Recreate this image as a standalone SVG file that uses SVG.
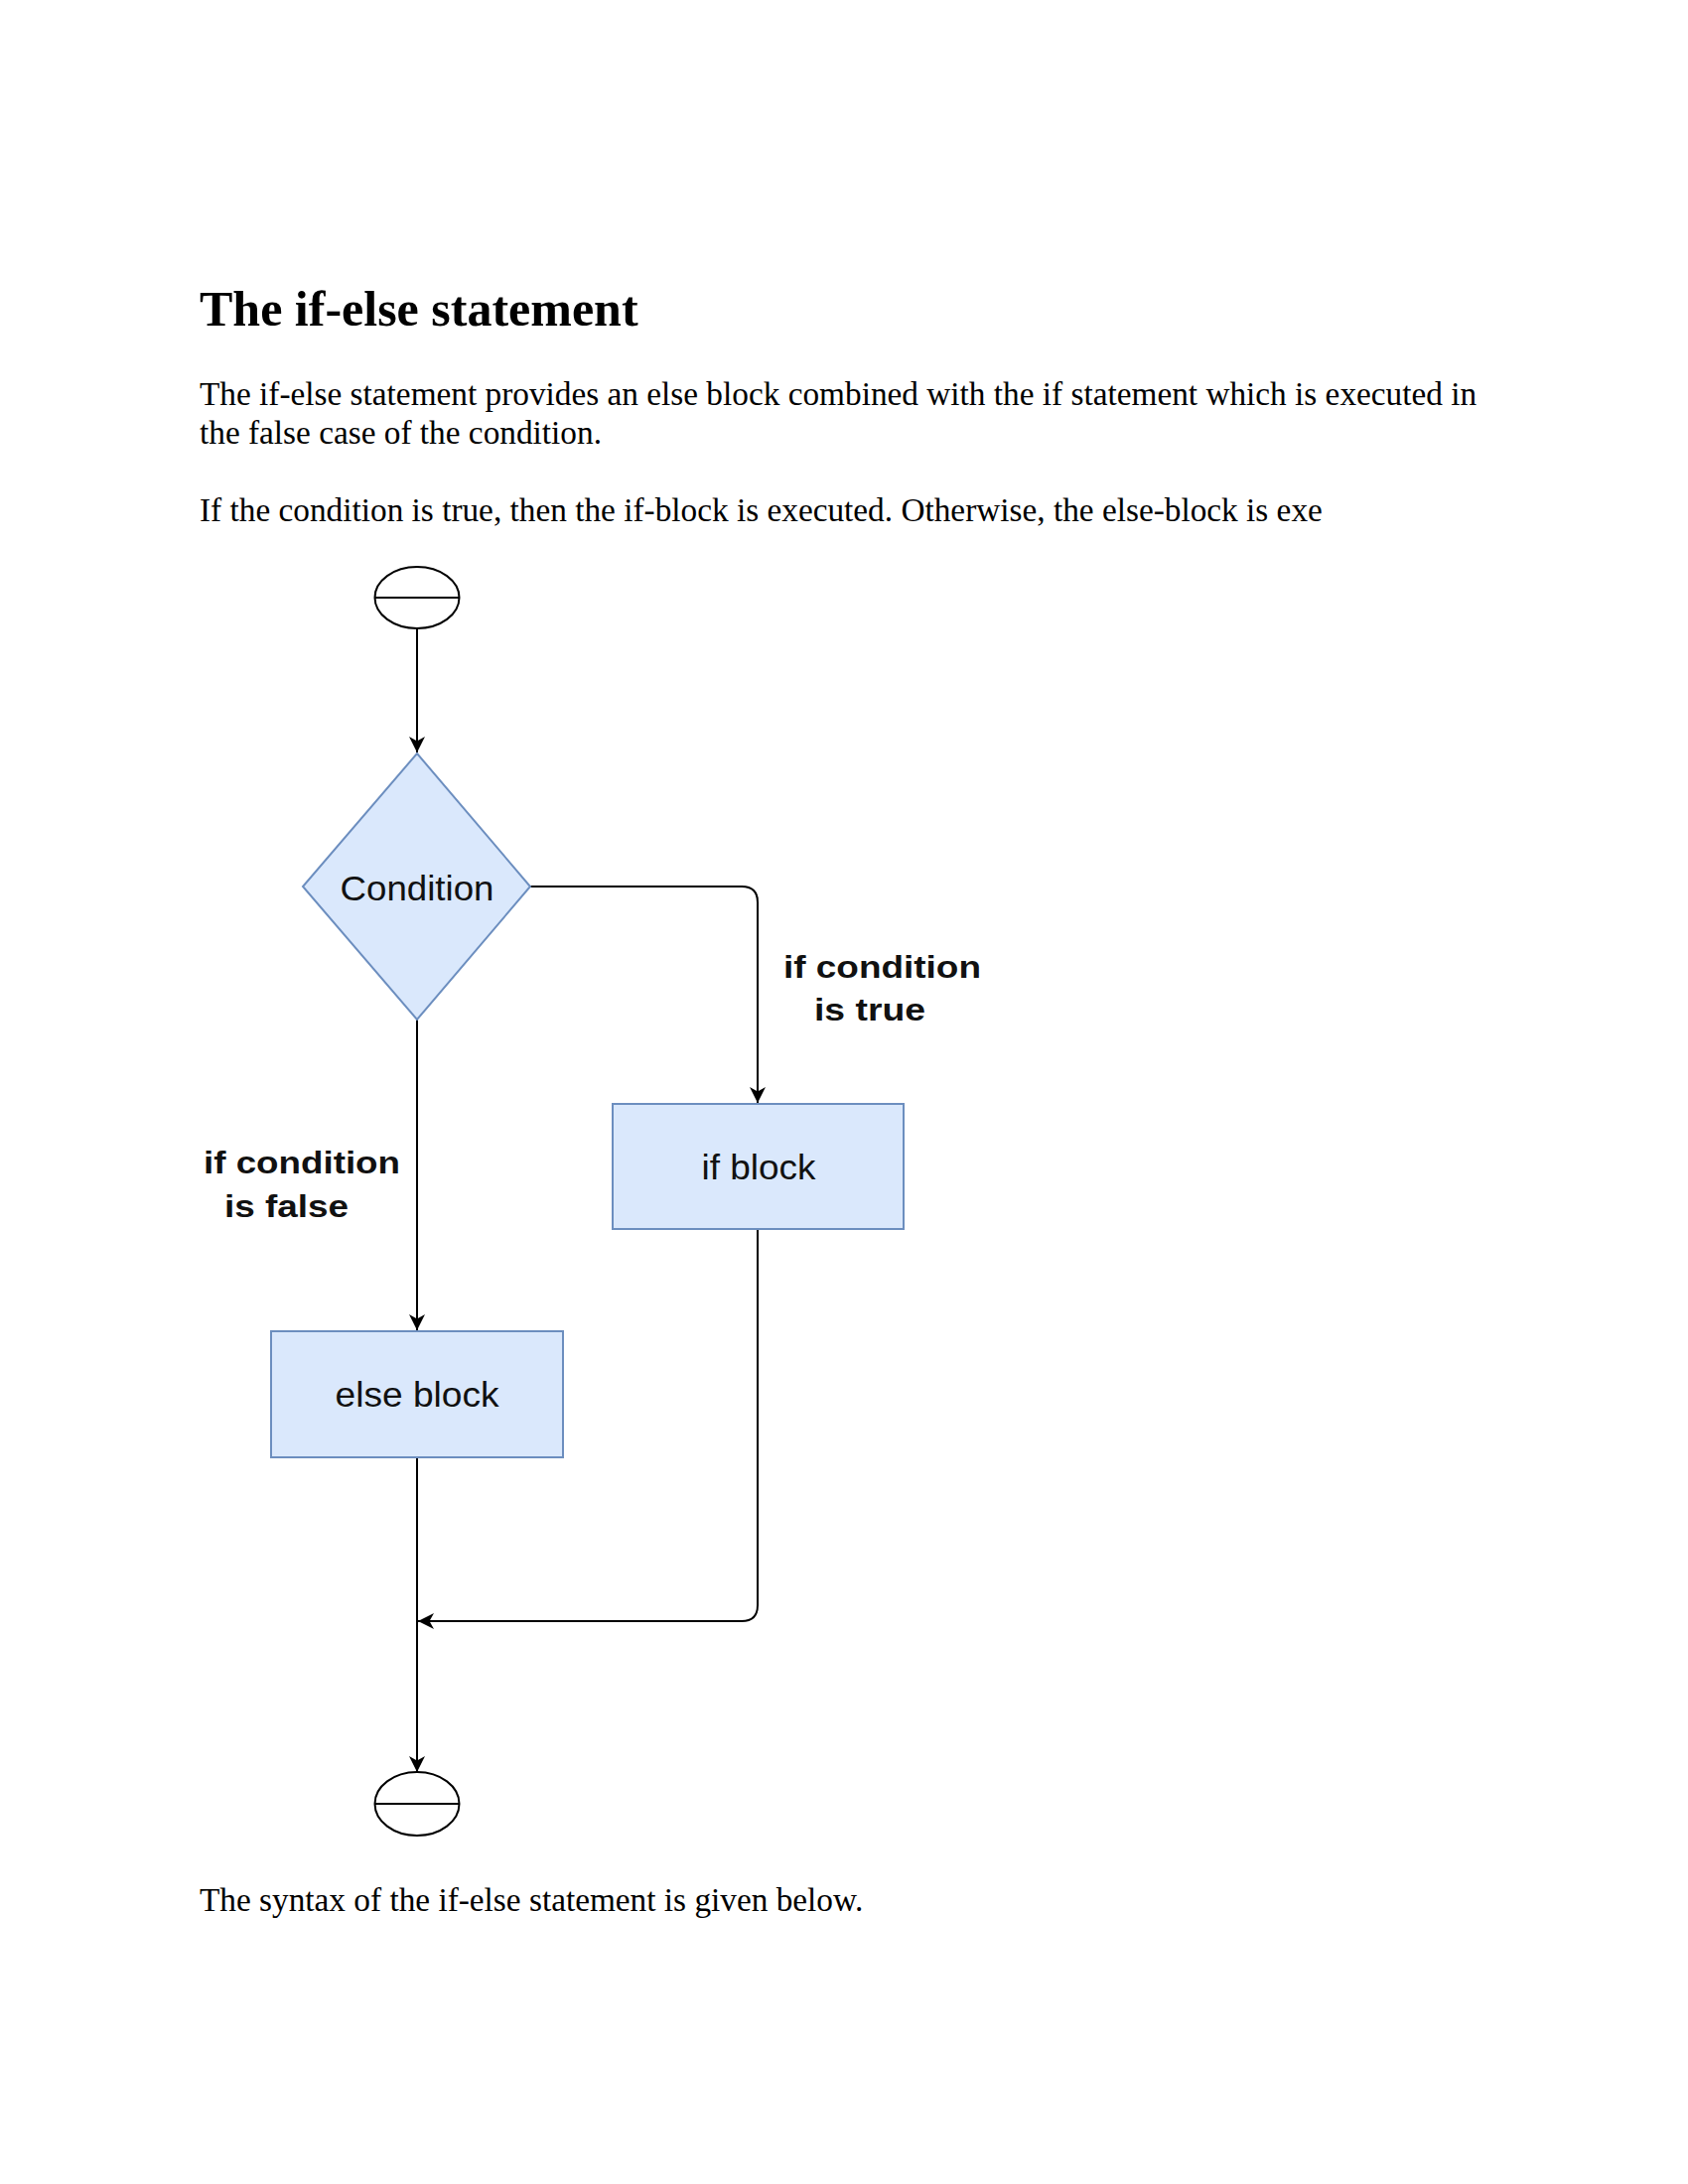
<svg xmlns="http://www.w3.org/2000/svg" width="1700" height="2200" viewBox="0 0 1700 2200">
<style>
.doc{font-family:"Liberation Serif","Times New Roman",serif;fill:#000}
.title{font-size:50px;font-weight:bold}
.body{font-size:33.3px}
.node{fill:#dae8fc;stroke:#6c8ebf;stroke-width:2}
.term{fill:#fff;stroke:#000;stroke-width:2}
.ntext{font-family:"Liberation Sans",Arial,sans-serif;font-size:35px;fill:#111;text-anchor:middle}
.lbl{font-family:"Liberation Sans",Arial,sans-serif;font-size:31px;font-weight:bold;fill:#111}
.conn{fill:none;stroke:#000;stroke-width:2}
</style>
<defs>
<marker id="arrow" markerUnits="userSpaceOnUse" markerWidth="17" markerHeight="17" viewBox="0 0 17 17" refX="16" refY="8.5" orient="auto">
<path d="M0,0.5 L16,8.5 L0,16.5 L4.5,8.5 z" fill="#000"/>
</marker>
</defs>
<rect width="1700" height="2200" fill="#fff"/>
<g id="text-block">
<text class="doc title" x="201" y="328">The if-else statement</text>
<text class="doc body" x="201" y="408">The if-else statement provides an else block combined with the if statement which is executed in</text>
<text class="doc body" x="201" y="447">the false case of the condition.</text>
<text class="doc body" x="201" y="525">If the condition is true, then the if-block is executed. Otherwise, the else-block is exe</text>
<text class="doc body" x="201" y="1925">The syntax of the if-else statement is given below.</text>
</g>
<g id="connectors">
<path class="conn" d="M420,633 V758" marker-end="url(#arrow)"/>
<path class="conn" d="M534,893 H747 Q763,893 763,909 V1111" marker-end="url(#arrow)"/>
<path class="conn" d="M420,1027 V1340" marker-end="url(#arrow)"/>
<path class="conn" d="M763,1238 V1617 Q763,1633 747,1633 H421" marker-end="url(#arrow)"/>
<path class="conn" d="M420,1468 V1785" marker-end="url(#arrow)"/>
</g>
<g id="labels">
<text class="lbl" x="789" y="985" textLength="199" lengthAdjust="spacingAndGlyphs">if condition</text>
<text class="lbl" x="820" y="1028" textLength="112" lengthAdjust="spacingAndGlyphs">is true</text>
<text class="lbl" x="205" y="1182" textLength="198" lengthAdjust="spacingAndGlyphs">if condition</text>
<text class="lbl" x="226" y="1226" textLength="125" lengthAdjust="spacingAndGlyphs">is false</text>
</g>
<g id="start">
<ellipse class="term" cx="420" cy="602" rx="42.5" ry="31"/>
<line x1="377.5" y1="602" x2="462.5" y2="602" stroke="#000" stroke-width="2"/>
</g>
<g id="condition">
<polygon class="node" points="420,759 534,893 420,1027 305,893"/>
<text class="ntext" x="420" y="907" textLength="155" lengthAdjust="spacingAndGlyphs">Condition</text>
</g>
<g id="if-block">
<rect class="node" x="617" y="1112" width="293" height="126"/>
<text class="ntext" x="764" y="1188" textLength="115" lengthAdjust="spacingAndGlyphs">if block</text>
</g>
<g id="else-block">
<rect class="node" x="273" y="1341" width="294" height="127"/>
<text class="ntext" x="420" y="1417" textLength="165" lengthAdjust="spacingAndGlyphs">else block</text>
</g>
<g id="end">
<ellipse class="term" cx="420" cy="1817" rx="42.5" ry="32"/>
<line x1="377.5" y1="1817" x2="462.5" y2="1817" stroke="#000" stroke-width="2"/>
</g>
</svg>
